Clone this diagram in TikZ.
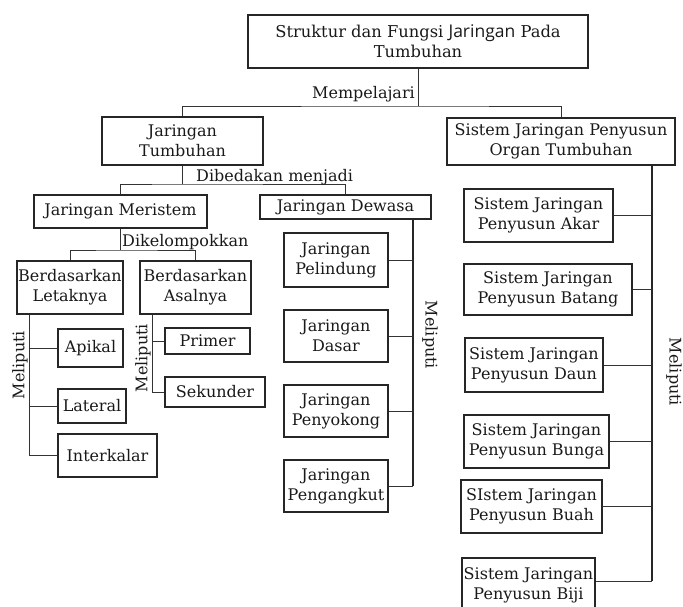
\documentclass[tikz,border=0pt]{standalone}
\usepackage{fontspec}
\setmainfont{DejaVu Serif}
\newfontfamily\sansj{Open Sans}
\begin{document}
\begin{tikzpicture}[x=1pt,y=-1pt,
  every node/.style={font=\fontsize{16}{20}\selectfont, text=black!90},
  box/.style={draw=black!85, line width=1.1pt, rectangle, inner sep=0pt, align=center},
  conn/.style={draw=black!80, line width=1pt},
  spine/.style={draw=black!85, line width=1.5pt},
  lbl/.style={inner sep=0pt}
]
\useasboundingbox (0,0) rectangle (683,606);
% boxes
\node[box, minimum width=340, minimum height=53, font=\fontsize{16.3}{20}\selectfont] (top) at (418,41.5) {Struktur dan Fungsi {\sansj\fontsize{17.5}{20}\selectfont Jaringan} Pada\\Tumbuhan};
\node[box, minimum width=161, minimum height=48] (jt) at (182.5,141) {Jaringan\\Tumbuhan};
\node[box, minimum width=228, minimum height=47] (sj) at (561,141.5) {Sistem Jaringan Penyusun\\Organ Tumbuhan};
\node[box, minimum width=173, minimum height=33] (jm) at (120.5,211.5) {Jaringan Meristem};
\node[box, minimum width=171, minimum height=24] (jd) at (345.5,207) {Jaringan Dewasa};
\node[box, minimum width=106, minimum height=53] (bl) at (70,287.5) {Berdasarkan\\Letaknya};
\node[box, minimum width=111, minimum height=53] (ba) at (195.5,287.5) {Berdasarkan\\Asalnya};
\node[box, minimum width=65, minimum height=38] (apikal) at (90.5,348) {Apikal};
\node[box, minimum width=68, minimum height=34] (lateral) at (92,406) {Lateral};
\node[box, minimum width=99, minimum height=43] (interkalar) at (107.5,455.5) {Interkalar};
\node[box, minimum width=85, minimum height=26] (primer) at (207.5,341) {Primer};
\node[box, minimum width=100, minimum height=30] (sekunder) at (215,392) {Sekunder};
\node[box, minimum width=104, minimum height=54] (pelindung) at (336,260) {Jaringan\\Pelindung};
\node[box, minimum width=104, minimum height=52] (dasar) at (336,336) {Jaringan\\Dasar};
\node[box, minimum width=104, minimum height=52] (penyokong) at (336,411) {Jaringan\\Penyokong};
\node[box, minimum width=104, minimum height=52] (pengangkut) at (336,486) {Jaringan\\Pengangkut};
\node[box, minimum width=149, minimum height=53] (akar) at (538.5,215.5) {Sistem Jaringan\\Penyusun Akar};
\node[box, minimum width=168, minimum height=51] (batang) at (548,289.5) {Sistem Jaringan\\Penyusun Batang};
\node[box, minimum width=138, minimum height=54] (daun) at (534,365) {Sistem Jaringan\\Penyusun Daun};
\node[box, minimum width=145, minimum height=53] (bunga) at (536.5,441.5) {Sistem Jaringan\\Penyusun Bunga};
\node[box, minimum width=141, minimum height=53] (buah) at (531.5,506.5) {SIstem Jaringan\\Penyusun Buah};
\node[box, minimum width=133, minimum height=54] (biji) at (528.5,585) {Sistem Jaringan\\Penyusun Biji};
% helper coordinates
\coordinate (h1) at (418,106);
\coordinate (h2) at (182.5,184);
\coordinate (h3) at (120.5,250);
\coordinate (lx) at (29,0);
\coordinate (ax) at (152,0);
\coordinate (dx) at (413,0);
\coordinate (sx) at (652,0);
\coordinate (sy) at (0,581);
% connectors level 1
\draw[conn] (top.south) -- (h1);
\draw[conn] (jt.north) |- (h1) -| (sj.north);
\node[lbl, anchor=base east] (l1) at (415,98) {Mempelajari};
% level 2
\draw[conn] (jt.south) -- (h2);
\draw[conn] (jm.north) |- (h2) -| (jd.north);
\node[lbl, anchor=base west] (l2) at (196,181) {Dibedakan menjadi};
% meristem
\draw[conn] (jm.south) -- (h3);
\draw[conn] (bl.north) |- (h3) -| (ba.north);
\node[lbl, anchor=base west] (l3) at (122,246) {Dikelompokkan};
% letaknya
\draw[conn] (bl.south -| lx) |- (interkalar.west);
\draw[conn] (lx |- apikal.west) -- (apikal.west);
\draw[conn] (lx |- lateral.west) -- (lateral.west);
\node[lbl, rotate=90] (m1) at (20,365) {Meliputi};
% asalnya
\draw[conn] (ba.south -| ax) |- (sekunder.west);
\draw[conn] (ax |- primer.west) -- (primer.west);
\node[lbl, rotate=90] (m2) at (143,358) {Meliputi};
% dewasa
\draw[spine] (jd.south -| dx) -- (dx |- pengangkut.east);
\draw[conn] (dx |- pelindung.east) -- (pelindung.east);
\draw[conn] (dx |- dasar.east) -- (dasar.east);
\draw[conn] (dx |- penyokong.east) -- (penyokong.east);
\draw[conn] (dx |- pengangkut.east) -- (pengangkut.east);
\node[lbl, rotate=-90] (m3) at (430,335) {Meliputi};
% sistem
\draw[spine] (sj.south -| sx) -- (sx |- sy);
\draw[conn] (sx |- akar.east) -- (akar.east);
\draw[conn] (sx |- batang.east) -- (batang.east);
\draw[conn] (sx |- daun.east) -- (daun.east);
\draw[conn] (sx |- bunga.east) -- (bunga.east);
\draw[conn] (sx |- buah.east) -- (buah.east);
\draw[conn] (sx |- sy) -- (biji.east |- sy);
\node[lbl, rotate=-90] (m4) at (674,372) {Meliputi};
\end{tikzpicture}
\end{document}
